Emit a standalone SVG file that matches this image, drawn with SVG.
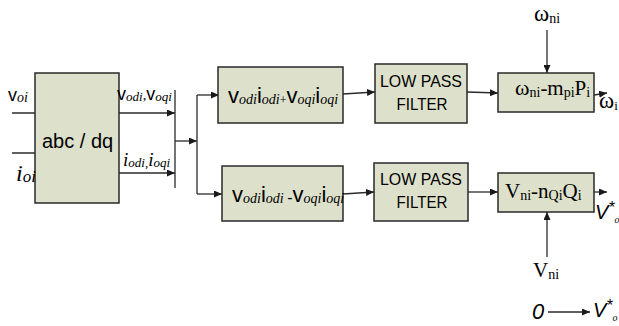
<svg xmlns="http://www.w3.org/2000/svg" width="619" height="326" viewBox="0 0 619 326">
<defs>
<marker id="ah" markerUnits="userSpaceOnUse" markerWidth="8" markerHeight="7" refX="8" refY="3.5" orient="auto">
<path d="M0,0 L8,3.5 L0,7 z" fill="#1a1a1a"/>
</marker>
</defs>
<style>
.box{fill:#dde0cb;stroke:#2a2a2a;stroke-width:1.5}
.ln{fill:none;stroke:#2a2a2a;stroke-width:1.3}
.ar{fill:none;stroke:#2a2a2a;stroke-width:1.3;marker-end:url(#ah)}
.sans{font-family:"Liberation Sans",Arial,sans-serif;fill:#000}
.ser{font-family:"Liberation Serif","Times New Roman",serif;fill:#000}
.it{font-style:italic}
.lpf{font-family:"Liberation Sans",Arial,sans-serif;font-size:17px;fill:#000;text-anchor:middle}
</style>
<rect width="619" height="326" fill="#fff"/>

<g id="connectors">
<path class="ar" d="M12,113 H49"/>
<path class="ar" d="M12,153 H49"/>
<path class="ar" d="M119,113 H175"/>
<path class="ar" d="M119,173 H175"/>
<path class="ln" d="M175,90 V188"/>
<path class="ar" d="M175,141 H197"/>
<path class="ln" d="M197,95 V194"/>
<path class="ar" d="M197,95 H219"/>
<path class="ar" d="M197,194 H222"/>
<path class="ar" d="M343,94 L375,92"/>
<path class="ar" d="M343,194 L374,192"/>
<path class="ar" d="M467,92 L498,93"/>
<path class="ar" d="M468,192 H498"/>
<path class="ar" d="M547,30 V73"/>
<path class="ar" d="M547,257 V212"/>
<path class="ar" d="M594,95 L607,93"/>
<path class="ar" d="M594,192 H607"/>
<path class="ar" d="M548,312 H590"/>
</g>

<g id="abcdq">
<rect class="box" x="35" y="73" width="84" height="130"/>
<text class="sans" x="42" y="148" font-size="20">abc / dq</text>
</g>

<g id="input-labels">
<text x="8" y="101"><tspan class="sans" font-size="18">v</tspan><tspan class="ser it" font-size="14" dy="1">oi</tspan></text>
<text x="16" y="181"><tspan class="ser it" font-size="24">i</tspan><tspan class="ser it" font-size="17" dy="1">oi</tspan></text>
<text x="117" y="100"><tspan class="sans" font-size="18">v</tspan><tspan class="ser it" font-size="13" dy="1">odi</tspan><tspan class="ser" font-size="14" dy="-1">,</tspan><tspan class="sans" font-size="18">v</tspan><tspan class="ser it" font-size="13" dy="1">oqi</tspan></text>
<text x="123" y="166"><tspan class="ser it" font-size="19">i</tspan><tspan class="ser it" font-size="13" dy="1">odi,</tspan><tspan class="ser it" font-size="19" dy="-1">i</tspan><tspan class="ser it" font-size="13" dy="1">oqi</tspan></text>
</g>

<g id="power-p">
<rect class="box" x="218" y="67" width="125" height="56"/>
<text x="228" y="103"><tspan class="sans" font-size="22">v</tspan><tspan class="ser it" font-size="14" dy="1">odi</tspan><tspan class="sans" font-size="22" dy="-1">i</tspan><tspan class="ser it" font-size="14" dy="1">odi</tspan><tspan class="ser" font-size="12">+</tspan><tspan class="sans" font-size="22" dy="-1">v</tspan><tspan class="ser it" font-size="14" dy="1">oqi</tspan><tspan class="sans" font-size="22" dy="-1">i</tspan><tspan class="ser it" font-size="14" dy="1">oqi</tspan></text>
</g>

<g id="power-q">
<rect class="box" x="222" y="166" width="121" height="55"/>
<text x="232" y="202"><tspan class="sans" font-size="22">v</tspan><tspan class="ser it" font-size="14" dy="1">odi</tspan><tspan class="sans" font-size="22" dy="-1">i</tspan><tspan class="ser it" font-size="14" dy="1">odi </tspan><tspan class="sans" font-size="16">-</tspan><tspan class="sans" font-size="22" dy="-1">v</tspan><tspan class="ser it" font-size="14" dy="1">oqi</tspan><tspan class="sans" font-size="22" dy="-1">i</tspan><tspan class="ser it" font-size="14" dy="1">oqi</tspan></text>
</g>

<g id="lpf-1">
<rect class="box" x="375" y="64" width="92" height="59"/>
<text class="lpf" x="421" y="87" textLength="82" lengthAdjust="spacingAndGlyphs">LOW PASS</text>
<text class="lpf" x="422" y="110" textLength="51" lengthAdjust="spacingAndGlyphs">FILTER</text>
</g>

<g id="lpf-2">
<rect class="box" x="374" y="163" width="94" height="58"/>
<text class="lpf" x="421" y="185" textLength="82" lengthAdjust="spacingAndGlyphs">LOW PASS</text>
<text class="lpf" x="422" y="208" textLength="51" lengthAdjust="spacingAndGlyphs">FILTER</text>
</g>

<g id="droop-w">
<rect class="box" x="498" y="73" width="96" height="39"/>
<text x="515" y="95"><tspan class="ser" font-size="22">ω</tspan><tspan class="ser" font-size="14" dy="2">ni</tspan><tspan class="ser" font-size="21" dy="-2">-m</tspan><tspan class="ser" font-size="14" dy="2">pi</tspan><tspan class="ser" font-size="21" dy="-2">P</tspan><tspan class="ser" font-size="14" dy="2">i</tspan></text>
</g>

<g id="droop-v">
<rect class="box" x="498" y="173" width="96" height="39"/>
<text x="505" y="198"><tspan class="ser" font-size="21">V</tspan><tspan class="ser" font-size="14" dy="2">ni</tspan><tspan class="ser" font-size="21" dy="-2">-n</tspan><tspan class="ser" font-size="14" dy="2">Qi</tspan><tspan class="ser" font-size="21" dy="-2">Q</tspan><tspan class="ser" font-size="14" dy="2">i</tspan></text>
</g>

<g id="output-labels">
<text x="534" y="21"><tspan class="ser" font-size="23">ω</tspan><tspan class="ser" font-size="14" dy="2">ni</tspan></text>
<text x="533" y="277"><tspan class="ser" font-size="21">V</tspan><tspan class="ser" font-size="14" dy="2">ni</tspan></text>
<text x="599" y="108"><tspan class="ser" font-size="23">ω</tspan><tspan class="ser" font-size="13" dy="2">i</tspan></text>
<text x="595" y="219"><tspan class="sans it" font-size="20">V</tspan><tspan class="sans it" font-size="16" dy="-6">*</tspan><tspan class="ser it" font-size="10" dy="10">o</tspan></text>
<text class="sans it" x="532" y="319" font-size="22">0</text>
<text x="593" y="317"><tspan class="sans it" font-size="20">V</tspan><tspan class="sans it" font-size="16" dy="-6">*</tspan><tspan class="ser it" font-size="10" dy="10">o</tspan></text>
</g>
</svg>
